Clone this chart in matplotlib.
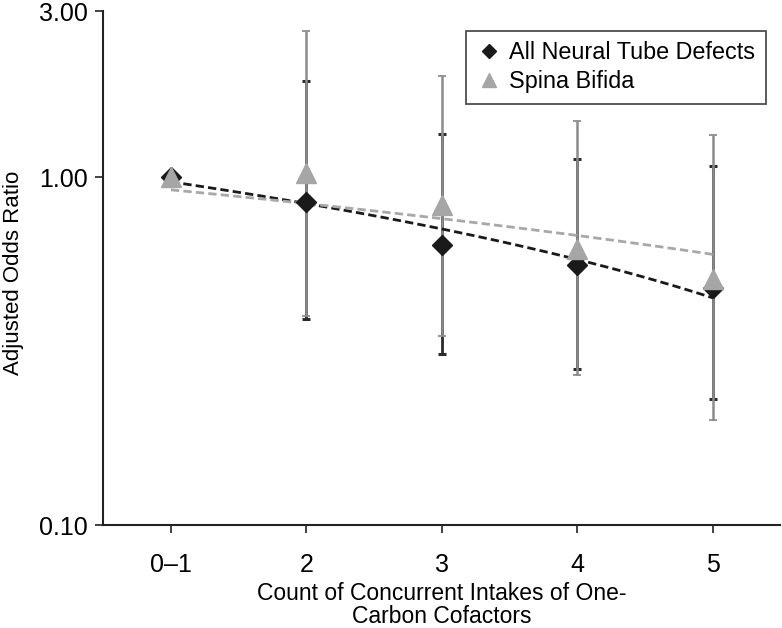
import numpy as np
import matplotlib
matplotlib.use('Agg')
import matplotlib.pyplot as plt

plt.rcParams['font.family'] = ['Liberation Sans', 'DejaVu Sans']

# categories on the x axis
categories = ['0\u20131', '2', '3', '4', '5']

# all neural tube defects: adjusted odds ratios and 95% CI
ntd_or = [1.00, 0.85, 0.64, 0.56, 0.48]
ntd_lo = [np.nan, 0.39, 0.31, 0.28, 0.23]
ntd_hi = [np.nan, 1.89, 1.33, 1.13, 1.08]

# spina bifida
sb_or = [1.00, 1.03, 0.83, 0.62, 0.51]
sb_lo = [np.nan, 0.40, 0.35, 0.27, 0.20]
sb_hi = [np.nan, 2.63, 1.96, 1.45, 1.32]

# linear trend lines, value at first and last category
ntd_trend = [0.97, 0.45]
sb_trend = [0.92, 0.60]

x = np.arange(len(categories))

fig = plt.figure(figsize=(7.82, 6.28), dpi=100)
ax = fig.add_axes([0.132, 0.164, 0.866, 0.818])

# error bars (reference group has none)
ntd_or_a = np.array(ntd_or)
sb_or_a = np.array(sb_or)
ntd_err = [ntd_or_a - np.array(ntd_lo), np.array(ntd_hi) - ntd_or_a]
sb_err = [sb_or_a - np.array(sb_lo), np.array(sb_hi) - sb_or_a]
ax.errorbar(x, ntd_or, yerr=ntd_err, fmt='none', ecolor='#2a2a2a',
            elinewidth=2.0, capsize=3, capthick=2.2, zorder=2)
ax.errorbar(x, sb_or, yerr=sb_err, fmt='none', ecolor='#8c8c8c',
            elinewidth=1.8, capsize=3, capthick=1.3, zorder=3)

# trend lines
xt = np.linspace(x[0], x[-1], 50)
ax.plot(xt, np.linspace(ntd_trend[0], ntd_trend[1], 50), '--',
        color='#1a1a1a', lw=2, dashes=(3, 1.5), zorder=4)
ax.plot(xt, np.linspace(sb_trend[0], sb_trend[1], 50), '--',
        color='#a8a8a8', lw=2, dashes=(3, 1.5), zorder=4)

ax.plot(x, ntd_or, 'D', color='#1a1a1a', ms=10, ls='none',
        label='All Neural Tube Defects', zorder=5)
ax.plot(x, sb_or, '^', color='#a6a6a6', ms=14, ls='none',
        label='Spina Bifida', zorder=6)

ax.set_yscale('log')
ax.set_ylim(0.1, 3.0)
ax.set_yticks([0.1, 1.0, 3.0])
ax.set_yticklabels(['0.10', '1.00', '3.00'])
ax.minorticks_off()
ax.set_xlim(-0.5, 4.5)
ax.set_xticks(x)
ax.set_xticklabels(categories)
ax.tick_params(labelsize=18, length=6, width=1.2, color='#222222', pad=5)
ax.tick_params(axis='x', pad=14)

for s in ['top', 'right']:
    ax.spines[s].set_visible(False)
for s in ['left', 'bottom']:
    ax.spines[s].set_linewidth(1.5)
    ax.spines[s].set_color('#222222')

ax.set_ylabel('Adjusted Odds Ratio', fontsize=16)
ax.yaxis.set_label_coords(-0.117, 0.49)
ax.set_xlabel('Count of Concurrent Intakes of One-\nCarbon Cofactors',
              fontsize=16.5, linespacing=1.0)
ax.xaxis.set_label_coords(0.5, -0.11)

leg = ax.legend(loc='upper right', bbox_to_anchor=(0.978, 0.962),
                fontsize=16.8, frameon=True, fancybox=False, handletextpad=0.3,
                handlelength=1.1, borderpad=0.45, labelspacing=0.25,
                markerscale=0.75, borderaxespad=0)
leg.get_frame().set_edgecolor('#222222')
leg.get_frame().set_linewidth(1.3)

fig.savefig('out.png', dpi=100)
